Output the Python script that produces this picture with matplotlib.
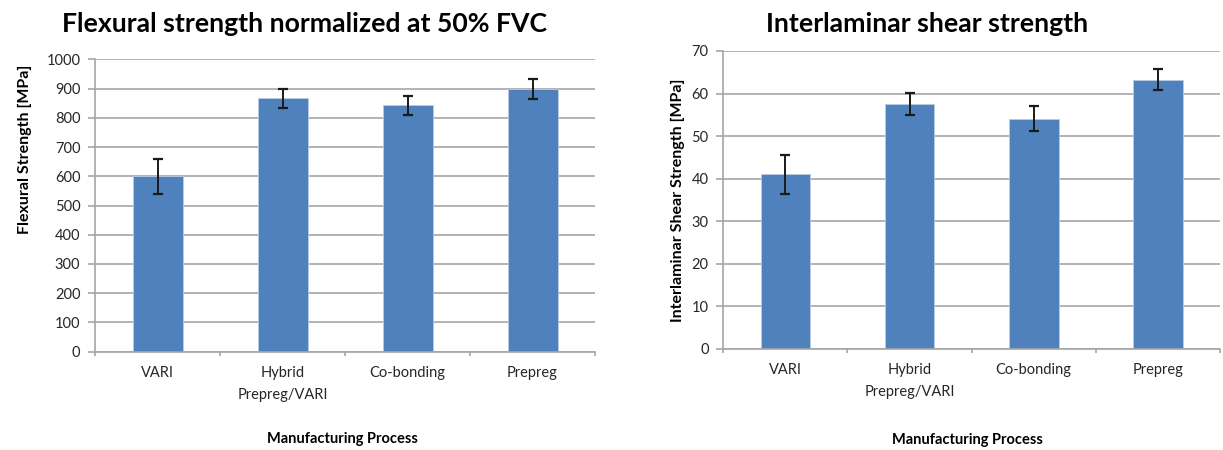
import numpy as np
import matplotlib
matplotlib.use("Agg")
import matplotlib.pyplot as plt

plt.rcParams['font.family'] = ['Lato', 'DejaVu Sans']

# 공정별 데이터
processes = ["VARI", "Hybrid\nPrepreg/VARI", "Co-bonding", "Prepreg"]
flex_mean = [600, 867, 843, 897]
flex_err = [60, 32, 33, 34]
ilss_mean = [41.0, 57.6, 54.1, 63.3]
ilss_err = [4.6, 2.6, 2.9, 2.5]

bar_color = "#4f81bd"
grid_color = "#a6a6a6"
text_color = "#262626"

W, H = 1223, 450
fig = plt.figure(figsize=(W / 100, H / 100), dpi=100)
ax1 = fig.add_axes([95 / W, 1 - 351.7 / H, 500 / W, 292.4 / H])
ax2 = fig.add_axes([723.3 / W, 1 - 349 / H, 496.7 / W, 298 / H])


def draw(ax, mean, err, ymax, step):
    x = np.arange(len(processes))
    ax.bar(x, mean, width=0.4, color=bar_color, edgecolor="#b8cce4",
           linewidth=0.6, zorder=2)
    ax.errorbar(x, mean, yerr=err, fmt="none", ecolor="#1a1a1a",
                elinewidth=1.4, capsize=3.6, capthick=1.6, zorder=3)
    ax.set_xlim(-0.5, len(processes) - 0.5)
    ax.set_ylim(0, ymax)
    ax.set_yticks(np.arange(0, ymax + step, step))
    ax.yaxis.grid(True, color=grid_color, linewidth=1.2, zorder=0)
    ax.set_axisbelow(True)
    for s in ["top", "right"]:
        ax.spines[s].set_visible(False)
    for s in ["left", "bottom"]:
        ax.spines[s].set_color(grid_color)
        ax.spines[s].set_linewidth(1.2)
    # 카테고리 경계에 눈금
    ax.set_xticks(np.arange(-0.5, len(processes), 1.0))
    ax.set_xticklabels([])
    ax.set_xticks(x, minor=True)
    ax.set_xticklabels(processes, minor=True, fontsize=10.5, color=text_color,
                       linespacing=1.75)
    ax.tick_params(axis="x", which="minor", length=0, pad=10)
    ax.tick_params(axis="x", which="major", length=3, color=grid_color,
                   width=1.2)
    ax.tick_params(axis="y", length=5, color=grid_color, width=1.2,
                   labelsize=10.5, labelcolor=text_color, pad=5.5)


draw(ax1, flex_mean, flex_err, 1000, 100)
draw(ax2, ilss_mean, ilss_err, 70, 10)

# 축 제목
fig.text(25 / W, 1 - 149 / H, "Flexural Strength [MPa]", rotation=90,
         ha="center", va="center", fontsize=11.5, fontweight="bold")
fig.text(678 / W, 1 - 200 / H, "Interlaminar Shear Strength [MPa]",
         rotation=90, ha="center", va="center", fontsize=11.5,
         fontweight="bold")

fig.text(305 / W, 1 - 32 / H, "Flexural strength normalized at 50% FVC",
         ha="center", va="baseline", fontsize=19.2, fontweight="bold")
fig.text(927 / W, 1 - 32 / H, "Interlaminar shear strength",
         ha="center", va="baseline", fontsize=19.2, fontweight="bold")
fig.text(342 / W, 1 - 439 / H, "Manufacturing Process",
         ha="center", va="center", fontsize=10.5, fontweight="bold")
fig.text(967 / W, 1 - 440 / H, "Manufacturing Process",
         ha="center", va="center", fontsize=10.5, fontweight="bold")

fig.savefig("out.png", dpi=100)
